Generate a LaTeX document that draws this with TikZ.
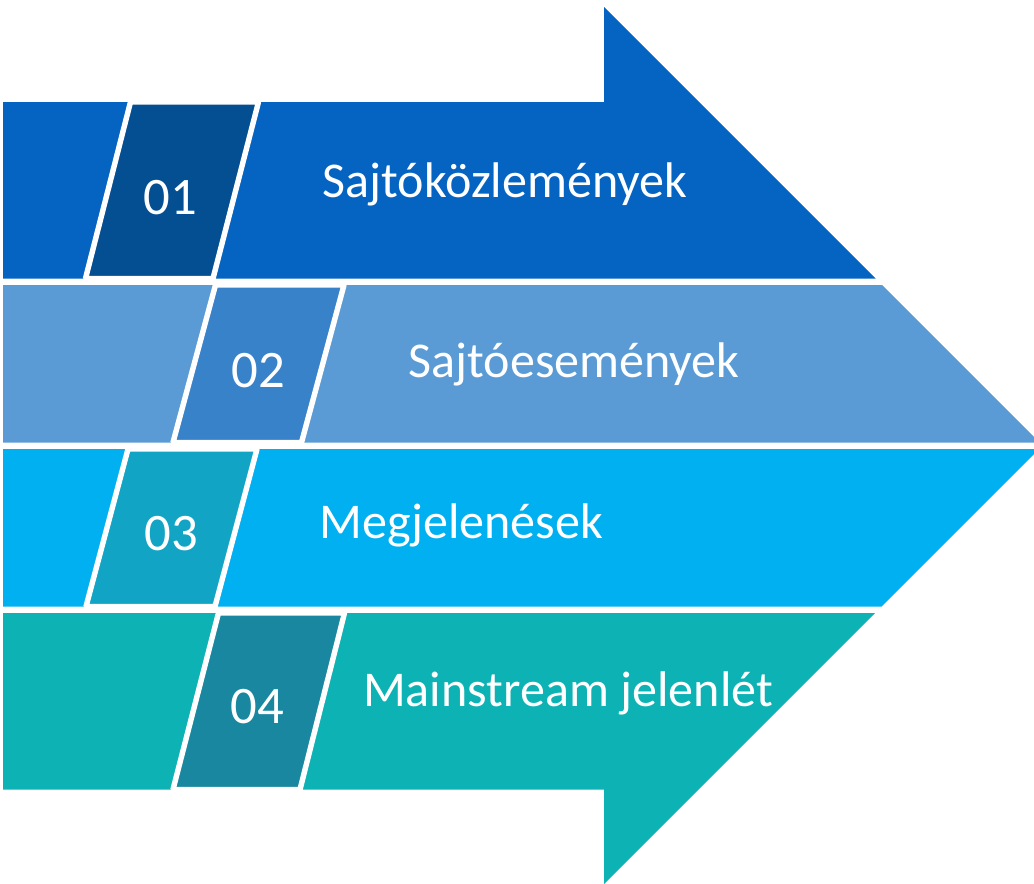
\documentclass[tikz,border=0pt]{standalone}
\usepackage{fontspec}
\setmainfont{Carlito}
\usepackage{xcolor}

\definecolor{bandA}{RGB}{5,99,193}
\definecolor{boxA}{RGB}{4,78,146}
\definecolor{bandB}{RGB}{91,155,213}
\definecolor{boxB}{RGB}{56,130,202}
\definecolor{bandC}{RGB}{0,176,240}
\definecolor{boxC}{RGB}{18,164,197}
\definecolor{bandD}{RGB}{12,178,180}
\definecolor{boxD}{RGB}{24,135,159}

\tikzset{
  numbox/.style={draw=white, line width=3.1pt, line join=bevel},
  numtext/.style={text=white, anchor=base, inner sep=0pt, font=\fontsize{30}{30}\selectfont},
  bandtext/.style={text=white, anchor=base, inner sep=0pt, font=\fontsize{28.5}{30}\selectfont}
}

\begin{document}
\begin{tikzpicture}[x=0.02cm,y=-0.02cm]
\useasboundingbox (0,0) rectangle (1034,883);

% arrow bands
\fill[bandA] (3,102) -- (604,102) -- (604,7) -- (875.5,278.5) -- (3,278.5) -- cycle;
\fill[bandB] (3,285) -- (882,285) -- (1039.5,442.5) -- (3,442.5) -- cycle;
\fill[bandC] (3,449) -- (1039,449) -- (881.5,606.5) -- (3,606.5) -- cycle;
\fill[bandD] (3,613) -- (875,613) -- (604,884) -- (604,789.5) -- (3,789.5) -- cycle;

% number boxes
\draw[numbox, fill=boxA] (130.5,102) -- (258.5,102) -- (213,278.5) -- (85.5,278.5) -- cycle;
\draw[numbox, fill=boxB] (215.5,285) -- (344,285) -- (301.5,442.5) -- (173,442.5) -- cycle;
\draw[numbox, fill=boxC] (128,449) -- (257,449) -- (215,606.5) -- (86,606.5) -- cycle;
\draw[numbox, fill=boxD] (218.5,613) -- (344.5,613) -- (300,789.5) -- (173,789.5) -- cycle;

\node[numtext] (num1) at (170,214) {01};
\node[numtext] (num2) at (258,387) {02};
\node[numtext] (num3) at (171,550) {03};
\node[numtext] (num4) at (257.5,723) {04};

\node[bandtext] (lab1) at (505,197) {Sajtóközlemények};
\node[bandtext] (lab2) at (574,377) {Sajtóesemények};
\node[bandtext] (lab3) at (461.5,538) {Megjelenések};
\node[bandtext] (lab4) at (568,706) {Mainstream jelenlét};

\end{tikzpicture}
\end{document}
